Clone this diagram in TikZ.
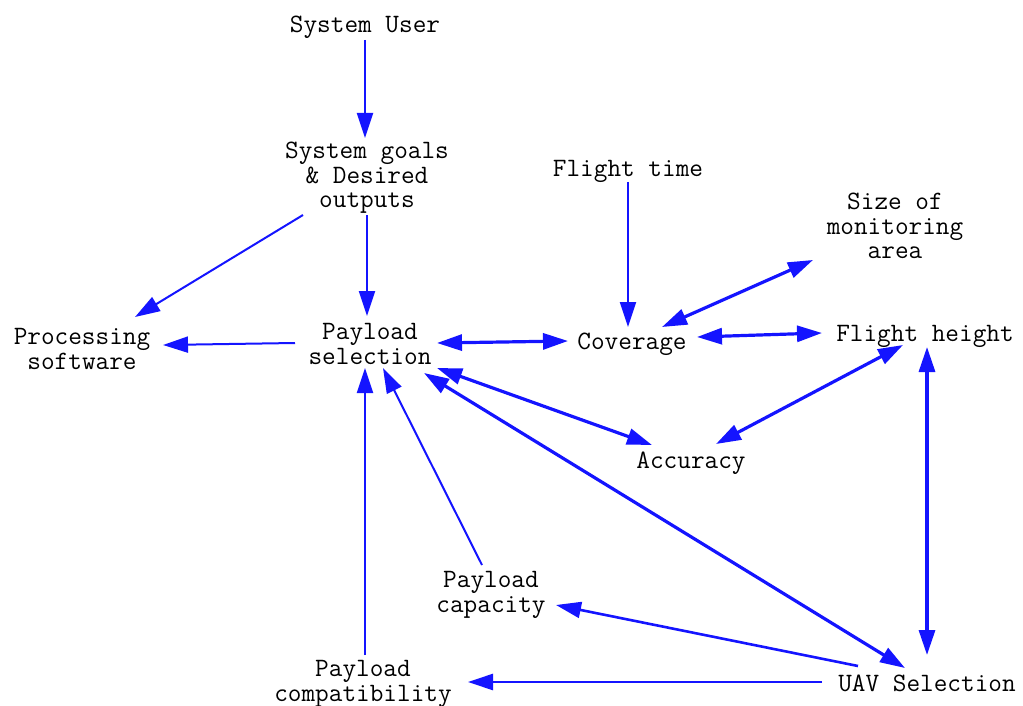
\documentclass[tikz,border=0pt]{standalone}
\usepackage{fontspec}
\usetikzlibrary{arrows.meta,calc}
\definecolor{linkblue}{RGB}{20,20,255}
\begin{document}
\begin{tikzpicture}[x=1pt,y=-1pt,
  lbl/.style={font=\ttfamily\fontsize{26.5}{24.5}\selectfont, align=center, inner sep=0pt, text=black},
  one/.style={draw=linkblue, line width=2pt, -{Triangle[length=25pt,width=16pt]}},
  mid/.style={draw=linkblue, line width=2.6pt, -{Triangle[length=25pt,width=16pt]}},
  two/.style={draw=linkblue, line width=3.2pt, {Triangle[length=25pt,width=16pt]}-{Triangle[length=25pt,width=16pt]}},
]
\useasboundingbox (0,0) rectangle (1023,706);

% concepts
\node[lbl] (user)  at (365,27)  {System User};
\node[lbl] (goals) at (367,178) {System goals\\\& Desired\\outputs};
\node[lbl] (ftime) at (628,171) {Flight time};
\node[lbl] (size)  at (895,226) {Size of\\monitoring\\area};
\node[lbl] (proc)  at (82,349)  {Processing\\software};
\node[lbl] (psel)  at (370,344) {Payload\\selection};
\node[lbl] (cov)   at (632,344) {Coverage};
\node[lbl] (fh)    at (925,336) {Flight height};
\node[lbl] (acc)   at (691,463) {Accuracy};
\node[lbl] (pcap)  at (491,595) {Payload\\capacity};
\node[lbl] (pcomp) at (363,684) {Payload\\compatibility};
\node[lbl] (uav)   at (927,683) {UAV Selection};

% one-way links
\draw[one] ($(user)+(0,13)$) -- ($(goals)+(-2,-40)$);
\draw[one] ($(goals)+(-64,37)$) -- ($(proc)+(53,-32)$);
\draw[one] ($(goals)+(0,37)$) -- ($(psel)+(-3,-28)$);
\draw[one] ($(psel)+(-75,-1)$) -- ($(proc)+(81,-4)$);
\draw[one] ($(ftime)+(0,11)$) -- ($(cov)+(-4,-17)$);
\draw[one] ($(pcap)+(-9,-30)$) -- ($(psel)+(13,24)$);
\draw[one] ($(pcomp)+(2,-29)$) -- ($(psel)+(-5,24)$);
\draw[mid] ($(uav)+(-69,-17)$) -- ($(pcap)+(65,10)$);
\draw[mid] ($(uav)+(-105,-1)$) -- ($(pcomp)+(105,-2)$);

% two-way links
\draw[two] ($(psel)+(67,-1)$) -- ($(cov)+(-64,-3)$);
\draw[two] ($(size)+(-82,34)$) -- ($(cov)+(30,-17)$);
\draw[two] ($(cov)+(65,-7)$) -- ($(fh)+(-103,-3)$);
\draw[two] ($(psel)+(67,24)$) -- ($(acc)+(-39,-18)$);
\draw[two] ($(fh)+(-22,9)$) -- ($(acc)+(25,-19)$);
\draw[two] ($(fh)+(2,11)$) -- ($(uav)+(0,-28)$);
\draw[two] ($(psel)+(54,29)$) -- ($(uav)+(-22,-15)$);
\end{tikzpicture}
\end{document}
